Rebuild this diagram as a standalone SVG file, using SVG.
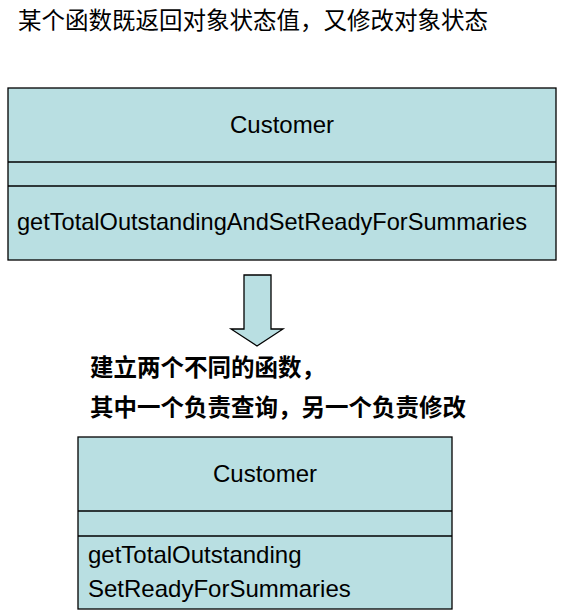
<svg xmlns="http://www.w3.org/2000/svg" width="572" height="614" viewBox="0 0 572 614">
<style>
.box{fill:#b9dfe2;stroke:#000;stroke-width:1.3}
.ln{stroke:#000;stroke-width:1.3}
.t{font-family:"Liberation Sans",Arial,sans-serif;font-size:24px;fill:#000}
.cn{font-family:"Liberation Sans","Noto Sans CJK SC",sans-serif;font-size:23.5px;fill:#000}
.cb{font-family:"Liberation Sans","Noto Sans CJK SC",sans-serif;font-size:23.5px;font-weight:bold;fill:#000}
</style>
<rect width="572" height="614" fill="#fff"/>
<text class="cn" x="18" y="29">某个函数既返回对象状态值，又修改对象状态</text>
<g id="customer-before">
<rect class="box" x="8" y="88" width="548" height="172"/>
<line class="ln" x1="8" y1="162" x2="556" y2="162"/>
<line class="ln" x1="8" y1="186" x2="556" y2="186"/>
<text class="t" x="282" y="133" text-anchor="middle">Customer</text>
<text class="t" x="17" y="230" textLength="510" lengthAdjust="spacingAndGlyphs">getTotalOutstandingAndSetReadyForSummaries</text>
</g>
<g id="connectors">
<polygon class="box" stroke-width="1" points="244,275 271,275 271,329 283,329 257,346 231,329 244,329"/>
</g>
<g id="note">
<text class="cb" x="90" y="376">建立两个不同的函数，</text>
<text class="cb" x="90" y="416">其中一个负责查询，另一个负责修改</text>
</g>
<g id="customer-after">
<rect class="box" x="78" y="437" width="374" height="172"/>
<line class="ln" x1="78" y1="511" x2="452" y2="511"/>
<line class="ln" x1="78" y1="536" x2="452" y2="536"/>
<text class="t" x="265" y="482" text-anchor="middle">Customer</text>
<text class="t" x="88" y="563">getTotalOutstanding</text>
<text class="t" x="88" y="597">SetReadyForSummaries</text>
</g>
</svg>
